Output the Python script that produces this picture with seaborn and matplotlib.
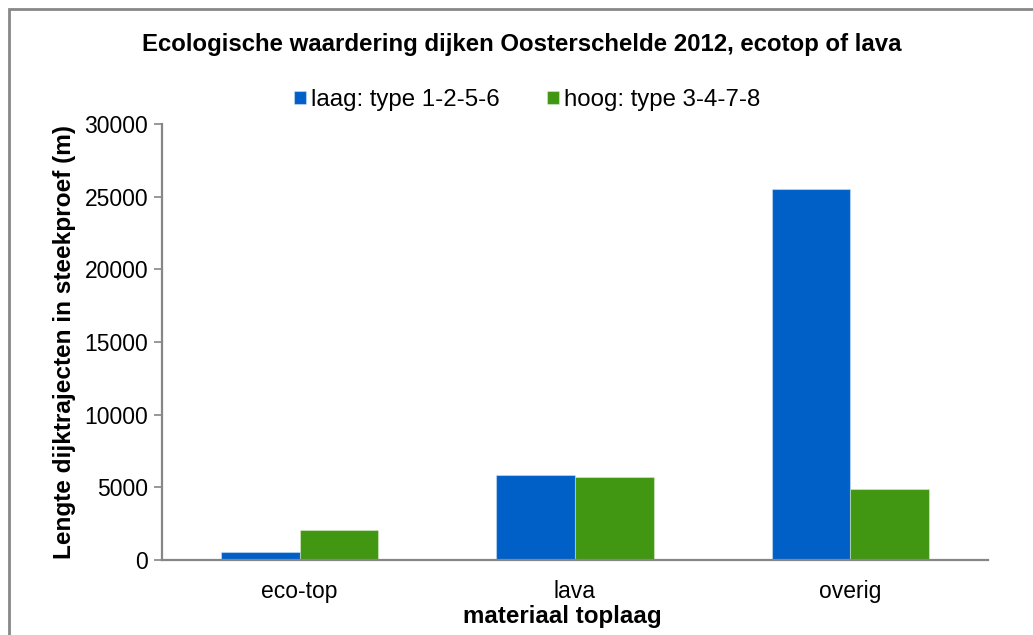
import pandas as pd
import seaborn as sns
import matplotlib.pyplot as plt
from matplotlib.patches import Rectangle

# Data
categories = ["eco-top", "lava", "overig"]
series_names = ["laag: type 1-2-5-6", "hoog: type 3-4-7-8"]
laag_values = [520, 5850, 25500]
hoog_values = [2060, 5710, 4880]
y_ticks = [0, 5000, 10000, 15000, 20000, 25000, 30000]

colors = ["#0060C8", "#419612"]

df = pd.DataFrame({
    "materiaal": categories * 2,
    "serie": [series_names[0]] * 3 + [series_names[1]] * 3,
    "lengte": laag_values + hoog_values,
})

sns.set_style("white")
plt.rcParams['font.family'] = ['Liberation Sans', 'DejaVu Sans']
plt.rcParams['text.color'] = 'black'
plt.rcParams['axes.labelcolor'] = 'black'
plt.rcParams['xtick.color'] = 'black'
plt.rcParams['ytick.color'] = 'black'

fig = plt.figure(figsize=(10.33, 6.35), dpi=100)
ax = fig.add_axes([162 / 1033, 75 / 635, (988 - 162) / 1033, 436 / 635])

sns.barplot(data=df, x="materiaal", y="lengte", hue="serie",
            palette=colors, saturation=1, width=0.572, gap=0, ax=ax,
            edgecolor="none", linewidth=0)

for patch in ax.patches:
    patch.set_edgecolor((1, 1, 1, 0.35))
    patch.set_linewidth(0.8)

ax.set_ylim(0, 30000)
ax.set_xlim(-0.5, 2.5)
ax.set_yticks(y_ticks)
ax.set_yticklabels([str(v) for v in y_ticks])
ax.tick_params(axis="y", left=True, length=6, width=1.2, color="#868686",
               labelsize=16.5, pad=4)
ax.tick_params(axis="x", bottom=False, labelsize=16.5, pad=11)

for side in ["top", "right"]:
    ax.spines[side].set_visible(False)
for side in ["left", "bottom"]:
    ax.spines[side].set_color("#868686")
    ax.spines[side].set_linewidth(1.6)

ax.set_xlabel("materiaal toplaag", fontsize=17.4, fontweight="bold")
ax.xaxis.label.set_va("center")
ax.xaxis.set_label_coords((562 - 162) / 826, (560 - 617) / 436)
ax.set_ylabel("Lengte dijktrajecten in steekproef (m)", fontsize=17.6,
              fontweight="bold", labelpad=6)

fig.text(0.505, 1 - 45 / 635, "Ecologische waardering dijken Oosterschelde 2012, ecotop of lava",
         ha="center", va="center", fontsize=17.3, fontweight="bold")

leg = ax.legend(loc="center", bbox_to_anchor=(527 / 1033, 1 - 100 / 635),
                bbox_transform=fig.transFigure, ncol=2, frameon=False,
                fontsize=17.3, handlelength=0.5, handleheight=0.5,
                handletextpad=0.2, columnspacing=2.0, borderpad=0)

# grey frame around the chart area (open on right/bottom like the source)
fig.patches.append(Rectangle((9 / 1033, -0.1), 1.2, 0.1 + 1 - 9 / 635,
                             transform=fig.transFigure, fill=False,
                             edgecolor="#878787", linewidth=2))

fig.savefig("out.png", dpi=100)
